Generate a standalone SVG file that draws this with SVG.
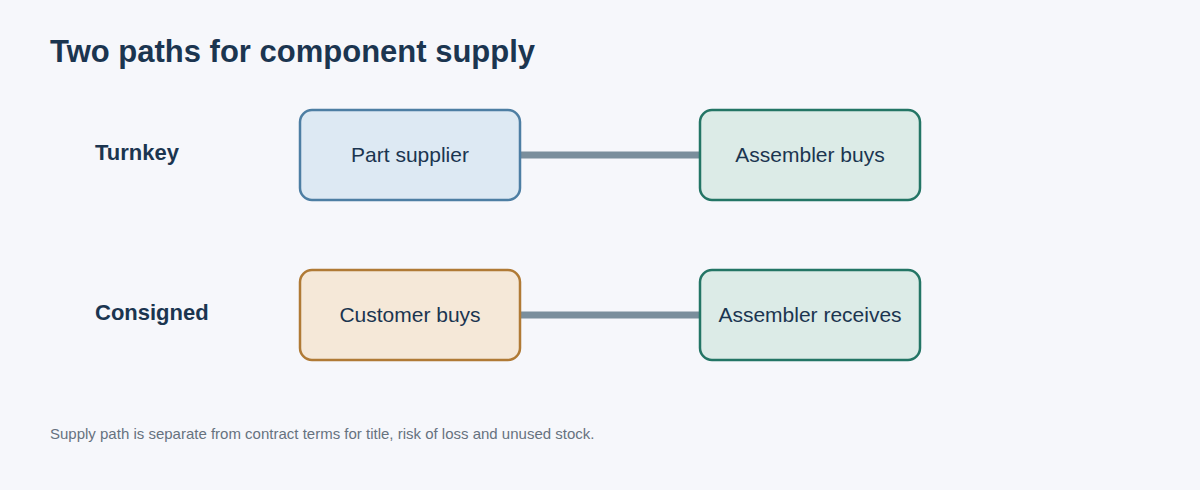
<svg xmlns="http://www.w3.org/2000/svg" width="1200" height="490" viewBox="0 0 1200 490">
<style>
.t{font-family:"Liberation Sans",Arial,sans-serif;fill:#1b3550}
.lbl{font-size:22px;font-weight:bold}
.n{font-size:21px;text-anchor:middle}
.box{stroke-width:2.5}
.c{stroke:#7a8e9c;stroke-width:7}
</style>
<rect width="1200" height="490" fill="#f6f7fb"/>
<text class="t" x="50" y="62" font-size="31" font-weight="bold">Two paths for component supply</text>
<text class="t lbl" x="95" y="160">Turnkey</text>
<text class="t lbl" x="95" y="320">Consigned</text>
<g id="connectors">
<line class="c" x1="520" y1="155" x2="700" y2="155"/>
<line class="c" x1="520" y1="315" x2="700" y2="315"/>
</g>
<g id="n1"><rect class="box" x="300" y="110" width="220" height="90" rx="12" fill="#dde9f3" stroke="#4d7ea3"/><text class="t n" x="410" y="162">Part supplier</text></g>
<g id="n2"><rect class="box" x="700" y="110" width="220" height="90" rx="12" fill="#dcebe7" stroke="#237565"/><text class="t n" x="810" y="162">Assembler buys</text></g>
<g id="n3"><rect class="box" x="300" y="270" width="220" height="90" rx="12" fill="#f5e8d8" stroke="#b07a35"/><text class="t n" x="410" y="322">Customer buys</text></g>
<g id="n4"><rect class="box" x="700" y="270" width="220" height="90" rx="12" fill="#dcebe7" stroke="#237565"/><text class="t n" x="810" y="322">Assembler receives</text></g>
<text x="50" y="439" font-family="Liberation Sans,Arial,sans-serif" font-size="15" fill="#66727f">Supply path is separate from contract terms for title, risk of loss and unused stock.</text>
</svg>
